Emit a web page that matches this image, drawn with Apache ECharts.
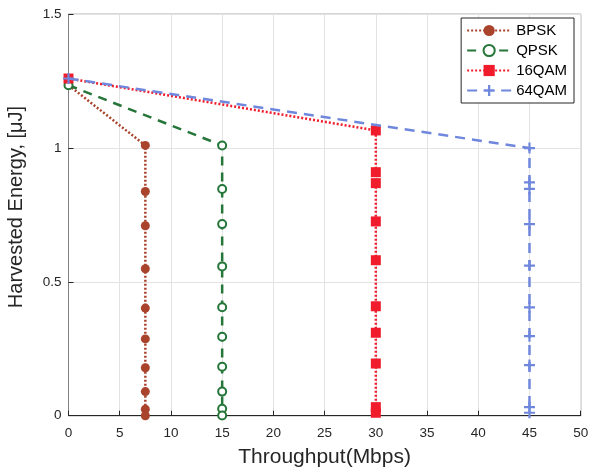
<!DOCTYPE html>
<html><head><meta charset="utf-8">
<script src="https://cdn.jsdelivr.net/npm/echarts@6/dist/echarts.min.js"></script>
<style>html,body{margin:0;padding:0;background:#fff}#c{width:597px;height:470px}</style>
</head><body><div id="c"></div>
<script>
const seriesNames = ['BPSK', 'QPSK', '16QAM', '64QAM'];
const xBPSK = [0, 7.5, 7.5, 7.5, 7.5, 7.5, 7.5, 7.5, 7.5, 7.5, 7.5];
const yBPSK = [1.235, 1.01, 0.838, 0.71, 0.549, 0.402, 0.287, 0.179, 0.09, 0.024, 0.0];
const xQPSK = [0, 15, 15, 15, 15, 15, 15, 15, 15, 15, 15];
const yQPSK = [1.235, 1.01, 0.847, 0.716, 0.558, 0.405, 0.295, 0.183, 0.09, 0.026, 0.001];
const x16QAM = [0, 30, 30, 30, 30, 30, 30, 30, 30, 30, 30];
const y16QAM = [1.26, 1.066, 0.91, 0.869, 0.726, 0.581, 0.409, 0.31, 0.195, 0.032, 0.011];
const x64QAM = [0, 45, 45, 45, 45, 45, 45, 45, 45, 45, 45];
const y64QAM = [1.26, 1.0, 0.872, 0.848, 0.716, 0.561, 0.405, 0.297, 0.189, 0.032, 0.011];
const xTicks = [0, 5, 10, 15, 20, 25, 30, 35, 40, 45, 50];
const yTicks = [0, 0.5, 1, 1.5];

const pairs = (xs, ys) => xs.map((x, i) => [x, ys[i]]);
const plusPath = 'path://M4,0H6V4H10V6H6V10H4V6H0V4H4Z';
const font = 'Liberation Sans, Arial, sans-serif';

const chart = echarts.init(document.getElementById('c'));
chart.setOption({
  animation: false,
  backgroundColor: '#fff',
  textStyle: { fontFamily: font },
  grid: { left: 68.5, right: 16.3, top: 14.3, bottom: 54.3, containLabel: false, outerBoundsMode: 'none',
          show: true, borderColor: '#404040', borderWidth: 1 },
  legend: {
    orient: 'vertical', right: 23, top: 18,
    backgroundColor: '#fff', borderColor: '#262626', borderWidth: 1,
    padding: [5, 7, 5, 5], itemGap: 5, itemWidth: 44, itemHeight: 14,
    textStyle: { fontSize: 15, color: '#000', fontFamily: font },
    data: seriesNames
  },
  xAxis: {
    type: 'value', min: xTicks[0], max: xTicks[xTicks.length - 1], interval: 5,
    name: 'Throughput(Mbps)', nameLocation: 'middle', nameGap: 31,
    nameTextStyle: { fontSize: 21, color: '#262626', fontFamily: font },
    axisLine: { show: true, onZero: false, lineStyle: { color: '#262626', width: 1 } },
    axisTick: { show: true, inside: true, length: 5, lineStyle: { color: '#262626' } },
    axisLabel: { fontSize: 13.5, color: '#262626', margin: 11, fontFamily: font },
    splitLine: { show: true, lineStyle: { color: '#e3e3e3', width: 1 } }
  },
  yAxis: {
    type: 'value', min: yTicks[0], max: yTicks[yTicks.length - 1], interval: 0.5,
    name: 'Harvested Energy, [\u03bcJ]', nameLocation: 'middle', nameGap: 42,
    nameTextStyle: { fontSize: 20, color: '#262626', fontFamily: font, padding: [0, 0, 0, 16] },
    axisLine: { show: true, onZero: false, lineStyle: { color: '#808080', width: 1 } },
    axisTick: { show: true, inside: true, length: 5, lineStyle: { color: '#262626' } },
    axisLabel: { fontSize: 13.5, color: '#262626', margin: 7, fontFamily: font },
    splitLine: { show: true, lineStyle: { color: '#e3e3e3', width: 1 } }
  },
  series: [
    {
      name: seriesNames[0], type: 'line', data: pairs(xBPSK, yBPSK),
      symbol: 'circle', symbolSize: 9, showAllSymbol: true,
      itemStyle: { color: '#a9432c' },
      lineStyle: { color: '#a9432c', width: 2.5, type: [2, 2] }, z: 3
    },
    {
      name: seriesNames[1], type: 'line', data: pairs(xQPSK, yQPSK),
      symbol: 'emptyCircle', symbolSize: 8, showAllSymbol: true,
      itemStyle: { color: '#26763a', borderWidth: 2.2, borderColor: '#26763a' },
      lineStyle: { color: '#26763a', width: 2.5, type: [9, 7] }, z: 3
    },
    {
      name: seriesNames[2], type: 'line', data: pairs(x16QAM, y16QAM),
      symbol: 'rect', symbolSize: 10, showAllSymbol: true,
      itemStyle: { color: '#f01c2c' },
      lineStyle: { color: '#f01c2c', width: 2.5, type: [2, 2] }, z: 4
    },
    {
      name: seriesNames[3], type: 'line', data: pairs(x64QAM, y64QAM),
      symbol: plusPath, symbolSize: 11, showAllSymbol: true,
      itemStyle: { color: '#6f87dc' },
      lineStyle: { color: '#6f87dc', width: 2.5, type: [10, 7] }, z: 5
    }
  ]
});
</script></body></html>
